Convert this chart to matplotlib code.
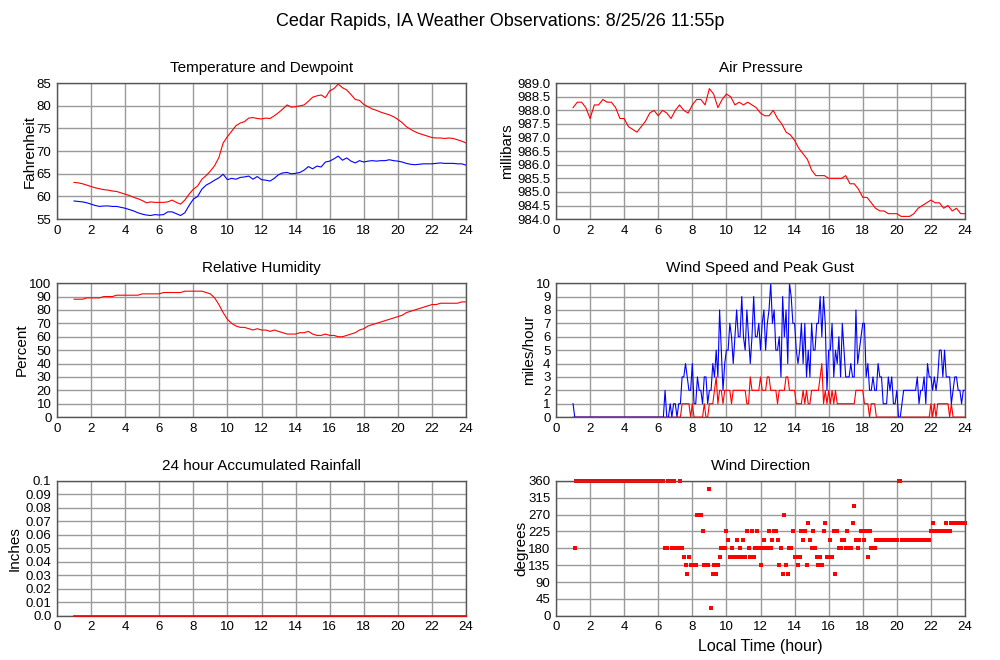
import numpy as np
import matplotlib.pyplot as plt
from matplotlib.ticker import MultipleLocator, FormatStrFormatter

plt.rcParams['font.family'] = ['Liberation Sans', 'DejaVu Sans']

# hourly grid, every 15 minutes from 1:00 to 24:00
hours_q = np.arange(1.0, 24.001, 0.25)

temp_f = [63.1, 63.0, 62.8, 62.5, 62.2, 61.9, 61.7, 61.5, 61.4, 61.2, 61.1, 60.8,
          60.5, 60.2, 59.8, 59.5, 59.1, 58.6, 58.8, 58.7, 58.7, 58.7, 58.8, 59.2,
          58.7, 58.3, 59.2, 60.5, 61.6, 62.3, 63.8, 64.6, 65.6, 66.8, 68.6, 71.8,
          73.2, 74.4, 75.6, 76.2, 76.5, 77.3, 77.4, 77.2, 77.1, 77.3, 77.2, 77.8,
          78.5, 79.3, 80.2, 79.7, 79.8, 80.0, 80.2, 81.0, 81.9, 82.2, 82.4, 81.8,
          83.3, 83.8, 84.8, 84.0, 83.5, 82.5, 81.4, 81.2, 80.3, 79.8, 79.3, 79.0,
          78.6, 78.3, 78.0, 77.6, 77.0, 76.3, 75.4, 74.8, 74.3, 73.9, 73.6, 73.3,
          73.0, 72.9, 72.9, 72.8, 72.9, 72.8, 72.5, 72.2, 71.8]

dewpoint_f = [59.0, 58.9, 58.8, 58.6, 58.3, 58.0, 57.8, 57.9, 57.9, 57.8, 57.8, 57.6,
              57.4, 57.1, 56.8, 56.4, 56.1, 55.9, 55.8, 56.0, 55.9, 56.0, 56.6, 56.6,
              56.2, 55.8, 56.4, 58.0, 59.4, 60.0, 61.6, 62.5, 63.0, 63.6, 64.1, 64.9,
              63.7, 64.0, 63.8, 64.2, 64.3, 64.5, 63.8, 64.4, 63.7, 63.6, 63.4, 64.0,
              64.8, 65.2, 65.3, 65.0, 65.1, 65.3, 65.8, 66.6, 66.1, 66.7, 66.5, 67.6,
              67.8, 68.3, 68.9, 68.0, 68.5, 67.8, 67.4, 67.9, 67.6, 67.8, 67.9, 67.8,
              67.9, 67.9, 68.1, 67.9, 67.8, 67.6, 67.3, 67.1, 67.0, 67.1, 67.2, 67.2,
              67.2, 67.3, 67.4, 67.3, 67.3, 67.3, 67.2, 67.2, 66.9]

pressure_mb = [988.1, 988.3, 988.3, 988.1, 987.7, 988.2, 988.2, 988.4, 988.3, 988.3,
               988.1, 987.7, 987.7, 987.4, 987.3, 987.2, 987.4, 987.6, 987.9, 988.0,
               987.8, 988.0, 987.9, 987.7, 988.0, 988.2, 988.0, 987.9, 988.2, 988.4,
               988.4, 988.2, 988.8, 988.6, 988.1, 988.4, 988.6, 988.5, 988.2, 988.3,
               988.2, 988.3, 988.2, 988.1, 987.9, 987.8, 987.8, 988.0, 987.7, 987.5,
               987.2, 987.1, 986.9, 986.6, 986.4, 986.2, 985.8, 985.6, 985.6, 985.6,
               985.5, 985.5, 985.5, 985.5, 985.6, 985.3, 985.3, 985.1, 984.8, 984.8,
               984.6, 984.4, 984.3, 984.3, 984.2, 984.2, 984.2, 984.1, 984.1, 984.1,
               984.2, 984.4, 984.5, 984.6, 984.7, 984.6, 984.6, 984.4, 984.5, 984.3,
               984.4, 984.2, 984.2]

humidity_pct = [88, 88, 88, 89, 89, 89, 89, 90, 90, 90, 91, 91, 91, 91, 91, 91,
                92, 92, 92, 92, 92, 93, 93, 93, 93, 93, 94, 94, 94, 94, 94, 93,
                92, 89, 84, 78, 73, 70, 68, 67, 67, 66, 65, 66, 65, 65, 64, 65,
                64, 63, 62, 62, 62, 63, 63, 64, 62, 61, 61, 62, 61, 61, 60, 60,
                61, 62, 63, 65, 66, 68, 69, 70, 71, 72, 73, 74, 75, 76, 78, 79,
                80, 81, 82, 83, 84, 84, 85, 85, 85, 85, 85, 86, 86]

rain_in = [0.0] * len(hours_q)

# wind, every 6 minutes from 1:00 to 24:00
hours_w = np.arange(1.0, 24.001, 0.1)

wind_gust = ([1] + [0] * 53 +
             [2, 0, 0, 1, 0, 1, 1, 0, 1, 1, 3, 3, 4, 3, 2, 2,            # 6.4 - 7.9
              4, 1, 1, 3, 2, 2, 1, 3, 3, 1, 2, 2, 4, 3, 5, 3, 8, 5, 2, 4,  # 8.0 - 9.9
              5, 5, 7, 6, 4, 6, 8, 6, 6, 9, 6, 5, 8, 6, 4, 6, 9, 6, 6, 7,  # 10.0 - 11.9
              5, 7, 8, 5, 7, 8, 10, 7, 8, 5, 5, 6, 3, 9, 6, 8, 4, 10, 9, 7,  # 12.0 - 13.9
              7, 5, 4, 5, 7, 4, 7, 3, 5, 3, 7, 5, 5, 7, 7, 9, 6, 9, 7, 2,  # 14.0 - 15.9
              5, 5, 7, 3, 5, 4, 6, 3, 7, 5, 3, 3, 3, 4, 3, 3, 8, 4, 5, 6,  # 16.0 - 17.9
              7, 7, 3, 4, 2, 2, 3, 2, 2, 4, 3, 3, 1, 1, 1, 3, 2, 3, 1, 1,  # 18.0 - 19.9
              2, 0, 0, 1, 2, 2, 2, 2, 2, 2, 2, 2, 3, 1, 2, 2, 3, 1, 4, 3,  # 20.0 - 21.9
              3, 2, 3, 2, 3, 5, 5, 3, 5, 3, 3, 3, 1, 2, 3, 3, 2, 2, 1, 2,  # 22.0 - 23.9
              2])

wind_speed = ([0] * 64 +
              [1, 1, 1, 1, 1, 0,                                           # 7.4 - 7.9
               1, 0, 0, 0, 0, 0, 0, 1, 0, 0, 1, 1, 1, 2, 3, 1, 2, 2, 1, 2,  # 8.0 - 9.9
               2, 2, 2, 1, 2, 2, 2, 2, 2, 2, 2, 2, 1, 1, 3, 2, 2, 2, 2, 2,  # 10.0 - 11.9
               3, 2, 2, 2, 3, 3, 2, 2, 2, 2, 1, 2, 2, 2, 2, 3, 3, 2, 2, 2,  # 12.0 - 13.9
               2, 1, 1, 1, 1, 2, 1, 2, 1, 1, 2, 2, 2, 2, 2, 3, 4, 1, 2, 1,  # 14.0 - 15.9
               2, 1, 2, 1, 2, 1, 1, 1, 1, 1, 1, 1, 1, 1, 1, 1, 2, 2, 2, 2,  # 16.0 - 17.9
               2, 1, 1, 1, 0, 1, 1, 1, 0, 0, 0, 0, 0, 0, 0, 0, 0, 0, 0, 0,  # 18.0 - 19.9
               0, 0, 0, 0, 0, 0, 0, 0, 0, 0, 0, 0, 0, 0, 0, 0, 0, 0, 0, 0,  # 20.0 - 21.9
               1, 0, 1, 0, 1, 1, 1, 1, 1, 1, 1, 0, 1, 0, 0, 0, 0, 0, 0, 0,  # 22.0 - 23.9
               0])

N = None
wind_dir = ([N, 180] + [360] * 52 +
            [180, 180, 360, 360, 180, 360,                                              # 6.4 - 6.9
             180, 180, 180, 360, 180, 158, 135, 112, 158, 135,                          # 7.0 - 7.9
             135, 135, 135, 270, 270, 270, 225, 135, 135, 135,                          # 8.0 - 8.9
             338, 22, 112, 135, 112, 135, 158, 180, 180, 180,                           # 9.0 - 9.9
             225, 202, 158, 180, 158, 158, 202, 158, 180, 158,                          # 10.0 - 10.9
             202, 158, 225, 180, 158, 225, 158, 180, 225, 180,                          # 11.0 - 11.9
             135, 180, 202, 180, 180, 225, 180, 202, 225, 225,                          # 12.0 - 12.9
             202, 135, 180, 112, 270, 135, 112, 180, 180, 225,                          # 13.0 - 13.9
             158, 158, 135, 158, 225, 202, 225, 135, 248, 202,                          # 14.0 - 14.9
             180, 225, 180, 158, 135, 158, 135, 225, 248, 158,                          # 15.0 - 15.9
             158, 202, 158, 225, 112, 225, 180, 180, 202, 202,                          # 16.0 - 16.9
             180, 225, 180, 180, 248, 292, 202, 180, 202, 225,                          # 17.0 - 17.9
             225, 202, 225, 158, 225, 180, 180, 180, 202, 202] +                        # 18.0 - 18.9
            [202] * 11 + [360, 360] + [202] * 17 +                                      # 19.0 - 21.9
            [225, 248, 225, 225, 225, 225, 225, 225, 225, 248,                          # 22.0 - 22.9
             225, 225, 248, 248, 248, 248, 248, 248, 248, 248, 248])                    # 23.0 - 24.0
wind_dir = np.array([np.nan if v is None else v for v in wind_dir], dtype=float)

RED = '#ff0000'
BLUE = '#0000ff'
LW = 0.8

fig = plt.figure(figsize=(10, 6.6), dpi=100)
fig.suptitle('Cedar Rapids, IA Weather Observations: 8/25/26 11:55p',
             y=0.98, fontsize=13)

left_x, right_x, w = 0.057, 0.556, 0.409
rows = [(0.668, 0.206), (0.368, 0.203), (0.067, 0.2045)]


def make_axes(col_x, row):
    b, h = rows[row]
    ax = fig.add_axes([col_x, b, w, h])
    ax.set_xlim(0, 24)
    ax.xaxis.set_major_locator(MultipleLocator(2))
    ax.grid(True, color='#9a9a9a', linewidth=1.0)
    ax.set_axisbelow(True)
    ax.tick_params(length=0, labelsize=9.5, pad=4)
    for s in ax.spines.values():
        s.set_color('#555555')
        s.set_linewidth(1.0)
    return ax


# temperature and dewpoint
ax = make_axes(left_x, 0)
ax.plot(hours_q, temp_f, color=RED, lw=LW)
ax.plot(hours_q, dewpoint_f, color=BLUE, lw=LW)
ax.set_ylim(55, 85)
ax.yaxis.set_major_locator(MultipleLocator(5))
ax.set_title('Temperature and Dewpoint', fontsize=11, pad=8)
ax.set_ylabel('Fahrenheit', fontsize=11, labelpad=0)

# pressure
ax = make_axes(right_x, 0)
ax.plot(hours_q, pressure_mb, color=RED, lw=LW)
ax.set_ylim(984, 989)
ax.yaxis.set_major_locator(MultipleLocator(0.5))
ax.yaxis.set_major_formatter(FormatStrFormatter('%.1f'))
ax.set_title('Air Pressure', fontsize=11, pad=8)
ax.set_ylabel('millibars', fontsize=11, labelpad=2)

# humidity
ax = make_axes(left_x, 1)
ax.plot(hours_q, humidity_pct, color=RED, lw=LW)
ax.set_ylim(0, 100)
ax.yaxis.set_major_locator(MultipleLocator(10))
ax.set_title('Relative Humidity', fontsize=11, pad=8)
ax.set_ylabel('Percent', fontsize=11, labelpad=0)

# wind speed and gust
ax = make_axes(right_x, 1)
ax.plot(hours_w, wind_speed, color=RED, lw=LW)
ax.plot(hours_w, wind_gust, color=BLUE, lw=LW)
ax.set_ylim(0, 10)
ax.yaxis.set_major_locator(MultipleLocator(1))
ax.set_title('Wind Speed and Peak Gust', fontsize=11, pad=8)
ax.set_ylabel('miles/hour', fontsize=11, labelpad=0)

# rainfall
ax = make_axes(left_x, 2)
ax.plot(hours_q, rain_in, color=RED, lw=1.2, clip_on=False, zorder=5)
ax.set_ylim(0, 0.1)
ax.set_yticks(np.arange(0, 0.1001, 0.01))
ax.set_yticklabels(['0.0'] + ['%.2f' % v for v in np.arange(0.01, 0.095, 0.01)] + ['0.1'])
ax.set_title('24 hour Accumulated Rainfall', fontsize=11, pad=8)
ax.set_ylabel('Inches', fontsize=11, labelpad=3)

# wind direction
ax = make_axes(right_x, 2)
ax.plot(hours_w, wind_dir, 's', color=RED, markersize=2.2, markeredgewidth=0,
        clip_on=False)
ax.set_ylim(0, 360)
ax.yaxis.set_major_locator(MultipleLocator(45))
ax.set_title('Wind Direction', fontsize=11, pad=8)
ax.set_ylabel('degrees', fontsize=11, labelpad=0)
ax.set_xlabel('Local Time (hour)', fontsize=11.5, labelpad=4)

fig.savefig('out.png', dpi=100)
